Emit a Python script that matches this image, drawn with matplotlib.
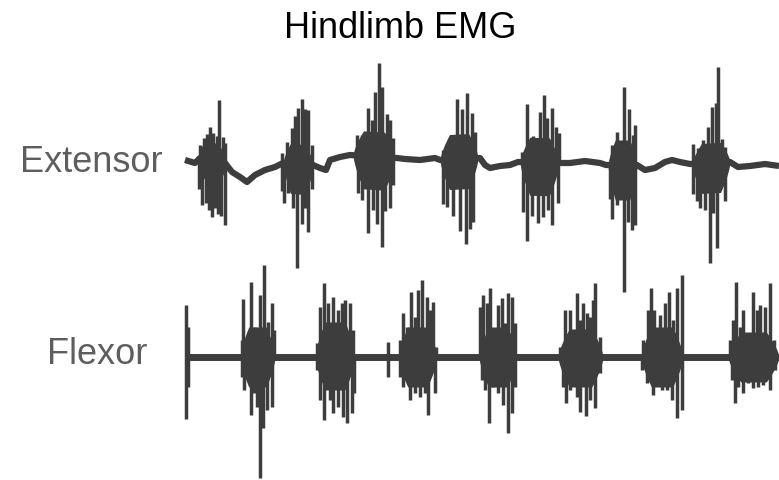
import numpy as np
import matplotlib
matplotlib.use("Agg")
import matplotlib.pyplot as plt

plt.rcParams['font.family'] = ['Liberation Sans', 'DejaVu Sans']

TITLE = "Hindlimb EMG"
CHANNELS = ["Extensor", "Flexor"]

# ---------------- Extensor (time in ms, amplitude in µV) ----------------
ext_base_t = [20, 120, 170, 420, 490, 570, 640, 720, 820, 920, 1000, 1300, 1370, 1430,
              1470, 1570, 1670, 2140, 2220, 2370, 2520, 2570, 2970, 3020, 3070, 3170,
              3270, 3350, 3750, 3870, 4020, 4170, 4230, 4540, 4620, 4720, 4820, 4890,
              4970, 5070, 5470, 5550, 5670, 5820, 5960]
ext_base_v = [30, 0, 50, 0, -90, -140, -190, -120, -70, -40, 0, -20, -50, -70,
              30, 60, 80, 50, 40, 30, 50, 30, 50, -20, -50, -30,
              -20, 10, 0, 0, 20, 0, -20, -20, -70, -50, 10, 30,
              10, -10, 10, -40, -30, -10, -30]

ext_burst_on = [150, 1000, 1700, 2570, 3370, 4250, 5090]
ext_burst_off = [430, 1300, 2120, 2950, 3760, 4540, 5470]
ext_core_hi = [180, 200, 250, 250, 250, 250, 200]
ext_core_lo = [-220, -300, -330, -300, -330, -350, -300]

ext_spike_t = [170, 210, 240, 270, 300, 340, 360, 400, 420,
               160, 190, 230, 260, 290, 320, 350, 380, 420,
               990, 1040, 1090, 1120, 1150, 1190, 1220, 1250, 1290,
               990, 1010, 1050, 1100, 1140, 1190, 1220, 1250, 1290,
               1740, 1790, 1850, 1890, 1920, 1960, 1990, 2040, 2070, 2100,
               1750, 1790, 1850, 1900, 1940, 1990, 2020, 2070, 2100,
               2600, 2690, 2740, 2790, 2840, 2890, 2920,
               2600, 2640, 2700, 2770, 2830, 2870, 2900,
               3390, 3440, 3500, 3570, 3610, 3640, 3690, 3730, 3760,
               3400, 3440, 3490, 3550, 3600, 3650, 3690, 3750,
               4290, 4340, 4390, 4410, 4460, 4500, 4520,
               4270, 4290, 4340, 4410, 4450, 4490, 4520,
               5100, 5150, 5200, 5250, 5290, 5330, 5350, 5390, 5420,
               5100, 5140, 5170, 5220, 5270, 5300, 5340, 5420]
ext_spike_v = [130, 210, 250, 330, 280, 250, 620, 260, 200,
               -300, -470, -440, -500, -570, -470, -520, -540, -620,
               110, 210, 360, 480, 560, 650, 550, 550, 200,
               -270, -400, -300, -440, -1040, -600, -440, -670, -240,
               200, 210, 480, 360, 650, 940, 700, 430, 380, 200,
               -370, -440, -770, -540, -670, -900, -540, -500, -270,
               100, 200, 600, 500, 660, 450, 260,
               -440, -470, -570, -720, -850, -700, -640,
               100, 580, 260, 510, 680, 450, 550, 360, 300,
               -500, -790, -540, -600, -540, -470, -620, -400,
               200, 330, 230, 780, 560, 300, 400,
               -340, -540, -400, -1270, -570, -650, -600,
               200, 160, 230, 360, 560, 600, 960, 230, 150,
               -300, -370, -440, -470, -1000, -500, -850, -390]

# ---------------- Flexor ----------------
flx_base_t = [20, 5960]
flx_base_v = [0, 0]

flx_burst_on = [570, 1320, 2150, 2960, 3750, 4580, 5450]
flx_burst_off = [920, 1720, 2540, 3340, 4200, 5000, 5960]
flx_core_hi = [300, 350, 300, 300, 280, 300, 250]
flx_core_lo = [-300, -330, -300, -300, -300, -300, -250]

flx_spike_t = [30, 50, 30, 50,
               590, 600, 640, 680, 720, 770, 810, 850, 890, 910,
               590, 610, 680, 710, 740, 770, 800, 840, 890,
               1340, 1370, 1410, 1450, 1500, 1550, 1590, 1620, 1670, 1700,
               1340, 1370, 1410, 1470, 1500, 1550, 1600, 1640, 1690, 1710,
               2050, 2050,
               2170, 2200, 2240, 2280, 2320, 2350, 2390, 2440, 2470, 2500, 2530,
               2170, 2200, 2270, 2320, 2370, 2420, 2450, 2520,
               2970, 2990, 3000, 3040, 3070, 3110, 3150, 3190, 3220, 3250, 3290, 3320,
               2990, 3020, 3060, 3100, 3150, 3200, 3250, 3290, 3320,
               3770, 3820, 3870, 3900, 3940, 3970, 4000, 4040, 4070, 4100, 4120, 4170,
               3800, 3830, 3870, 3940, 3970, 4030, 4070, 4120, 4170,
               4600, 4650, 4680, 4710, 4770, 4820, 4860, 4900, 4940, 4990,
               4590, 4640, 4700, 4750, 4790, 4840, 4890, 4940, 4990,
               5470, 5500, 5530, 5570, 5600, 5650, 5700, 5740, 5770, 5820, 5870, 5910,
               5490, 5520, 5550, 5600, 5650, 5700, 5750, 5800, 5870, 5920]
flx_spike_v = [520, 300, -620, -300,
               170, 580, 200, 750, 300, 620, 920, 350, 540, 270,
               -200, -330, -580, -360, -500, -1210, -710, -530, -500,
               140, 500, 740, 540, 600, 470, 540, 570, 540, 270,
               -130, -430, -630, -430, -560, -500, -600, -660, -560, -360,
               150, -200,
               170, 440, 300, 650, 400, 670, 770, 600, 470, 550, 100,
               -200, -300, -430, -360, -400, -360, -580, -360,
               500, 240, 620, 540, 690, 240, 520, 590, 340, 640, 600, 340,
               -230, -330, -660, -300, -360, -480, -760, -560, -300,
               100, 470, 470, 270, 640, 370, 540, 440, 400, 570, 740, 200,
               -300, -460, -330, -400, -550, -590, -430, -510, -160,
               170, 470, 690, 470, 420, 540, 650, 370, 690, 820,
               -130, -260, -380, -230, -330, -330, -430, -610, -530,
               170, 370, 750, 300, 470, 200, 650, 470, 520, 500, 740, 170,
               -230, -460, -300, -360, -260, -310, -300, -280, -330, -130]

# vertical offset of the extensor trace above the flexor trace (µV)
EXT_OFFSET = 1940

TRACE = "#3d3d3d"
LABEL = "#5e5e5e"

W, H = 779, 480
fig = plt.figure(figsize=(W / 100, H / 100), dpi=100)
ax = fig.add_axes([0, 0, 1, 1])
ax.set_xlim(-1830, 5960)
ax.set_ylim(-1230, 3570)
ax.axis("off")


def draw_channel(base_t, base_v, on, off, hi, lo, sp_t, sp_v, offset, base_lw):
    base_t = np.asarray(base_t, float)
    base_v = np.asarray(base_v, float) + offset
    ax.plot(base_t, base_v, color=TRACE, lw=base_lw, solid_joinstyle="round",
            solid_capstyle="butt", zorder=2)
    for a, b, h, l in zip(on, off, hi, lo):
        tt = np.linspace(a, b, 80)
        bb = np.interp(tt, base_t, base_v)
        frac = np.clip(np.minimum(tt - a, b - tt) / (0.25 * (b - a)), 0, 1) ** 0.7
        ax.fill_between(tt, bb + l * frac, bb + h * frac, color=TRACE, lw=0, zorder=2)
    sp_t = np.asarray(sp_t, float)
    sp_v = np.asarray(sp_v, float)
    b0 = np.interp(sp_t, base_t, base_v)
    ax.vlines(sp_t, b0, b0 + sp_v, color=TRACE, lw=2.5, zorder=3)


draw_channel(ext_base_t, ext_base_v, ext_burst_on, ext_burst_off, ext_core_hi,
             ext_core_lo, ext_spike_t, ext_spike_v, EXT_OFFSET, 4.5)
draw_channel(flx_base_t, flx_base_v, flx_burst_on, flx_burst_off, flx_core_hi,
             flx_core_lo, flx_spike_t, flx_spike_v, 0, 5)

fig.text(400 / W, 1 - 28 / H, TITLE, ha="center", va="center", fontsize=26, color="black")
fig.text(91 / W, 1 - 162 / H, CHANNELS[0], ha="center", va="center", fontsize=26, color=LABEL)
fig.text(97 / W, 1 - 354 / H, CHANNELS[1], ha="center", va="center", fontsize=26, color=LABEL)

fig.savefig("out.png", dpi=100)
